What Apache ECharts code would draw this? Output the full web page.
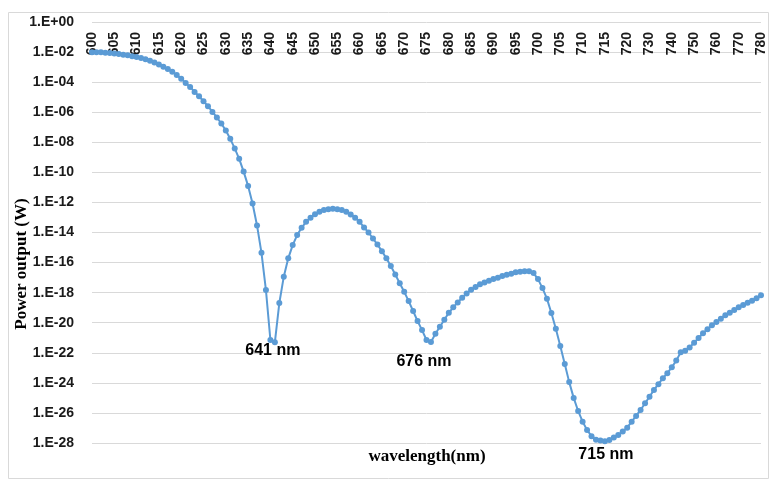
<!DOCTYPE html>
<html>
<head>
<meta charset="utf-8">
<script src="https://cdn.jsdelivr.net/npm/echarts@6/dist/echarts.min.js"></script>
<style>
  html, body { margin: 0; padding: 0; background: #fff; }
  #chart { width: 771px; height: 492px; }
</style>
</head>
<body>
<div id="chart"></div>
<script>
// wavelength categories (1 nm steps to 720, then 2 nm steps)
const wavelengths = [
  600, 601, 602, 603, 604, 605, 606, 607, 608, 609, 610, 611, 612, 613, 614, 615, 616, 617, 618, 619,
  620, 621, 622, 623, 624, 625, 626, 627, 628, 629, 630, 631, 632, 633, 634, 635, 636, 637, 638, 639,
  640, 641, 642, 643, 644, 645, 646, 647, 648, 649, 650, 651, 652, 653, 654, 655, 656, 657, 658, 659,
  660, 661, 662, 663, 664, 665, 666, 667, 668, 669, 670, 671, 672, 673, 674, 675, 676, 677, 678, 679,
  680, 681, 682, 683, 684, 685, 686, 687, 688, 689, 690, 691, 692, 693, 694, 695, 696, 697, 698, 699,
  700, 701, 702, 703, 704, 705, 706, 707, 708, 709, 710, 711, 712, 713, 714, 715, 716, 717, 718, 719,
  720, 722, 724, 726, 728, 730, 732, 734, 736, 738, 740, 742, 744, 746, 748, 750, 752, 754, 756, 758,
  760, 762, 764, 766, 768, 770, 772, 774, 776, 778, 780
];

// power output (W)
const power = [
  9.77e-3, 9.77e-3, 9.55e-3, 9.12e-3, 8.51e-3, 7.94e-3, 7.41e-3, 6.76e-3, 6.03e-3, 5.37e-3,
  4.68e-3, 3.98e-3, 3.31e-3, 2.69e-3, 2.04e-3, 1.51e-3, 1.07e-3, 7.41e-4, 4.90e-4, 3.02e-4,
  1.70e-4, 8.91e-5, 4.79e-5, 2.24e-5, 1.15e-5, 5.37e-6, 2.51e-6, 1.05e-6, 4.47e-7, 1.78e-7,
  6.03e-8, 1.70e-8, 3.89e-9, 7.94e-10, 1.12e-10, 1.26e-11, 8.51e-13, 2.95e-14, 4.47e-16, 1.48e-18,
  7.08e-22, 5.01e-22, 2.04e-19, 1.15e-17, 1.91e-16, 1.45e-15, 6.76e-15, 2.04e-14, 5.13e-14, 9.55e-14,
  1.66e-13, 2.40e-13, 3.09e-13, 3.55e-13, 3.80e-13, 3.55e-13, 3.09e-13, 2.40e-13, 1.58e-13, 9.55e-14,
  5.13e-14, 2.19e-14, 1.00e-14, 3.98e-15, 1.58e-15, 5.75e-16, 1.91e-16, 5.89e-17, 1.62e-17, 4.17e-18,
  1.15e-18, 2.75e-19, 6.03e-20, 1.29e-20, 3.24e-21, 7.08e-22, 5.25e-22, 1.86e-21, 5.37e-21, 1.58e-20,
  4.57e-20, 1.05e-19, 2.24e-19, 4.57e-19, 8.91e-19, 1.55e-18, 2.34e-18, 3.55e-18, 4.79e-18, 6.17e-18,
  7.94e-18, 9.77e-18, 1.26e-17, 1.55e-17, 1.82e-17, 2.24e-17, 2.45e-17, 2.63e-17, 2.69e-17, 2.00e-17,
  7.94e-18, 2.00e-18, 3.98e-19, 4.47e-20, 3.98e-21, 2.82e-22, 1.78e-23, 1.12e-24, 1.00e-25, 1.35e-26,
  2.63e-27, 7.41e-28, 2.82e-28, 1.66e-28, 1.45e-28, 1.32e-28, 1.58e-28, 2.29e-28, 3.47e-28, 5.75e-28,
  1.05e-27, 2.63e-27, 6.31e-27, 1.58e-26, 4.37e-26, 1.20e-25, 3.39e-25, 8.13e-25, 2.04e-24, 4.37e-24,
  1.10e-23, 3.02e-23, 1.07e-22, 1.38e-22, 2.29e-22, 4.68e-22, 9.55e-22, 2.00e-21, 3.63e-21, 6.76e-21,
  1.12e-20, 1.86e-20, 3.09e-20, 4.57e-20, 6.92e-20, 1.05e-19, 1.51e-19, 2.14e-19, 2.88e-19, 4.17e-19,
  6.61e-19
];

// marked dips
const dipWavelengths = [641, 676, 715];
const dipLabels = ['641 nm', '676 nm', '715 nm'];

const chart = echarts.init(document.getElementById('chart'));

// echarts 6 log axis breaks with 1e-28, so plot decades on a value axis
const decades = power.map(function (p) { return Math.log10(p); });

const labelOffsets = [[-2, 8], [-7, 20], [1, 13]];

const option = {
  animation: false,
  grid: { left: 92, right: 10, top: 22, bottom: 49 },
  xAxis: {
    type: 'category',
    position: 'top',
    data: wavelengths,
    boundaryGap: false,
    axisLine: { show: false },
    axisTick: { show: false },
    splitLine: { show: false },
    axisLabel: {
      inside: true,
      rotate: 90,
      interval: 4,
      margin: 10,
      fontFamily: 'Liberation Sans',
      fontWeight: 'bold',
      fontSize: 14,
      color: '#1a1a1a'
    }
  },
  yAxis: {
    type: 'value',
    min: -28,
    max: 0,
    interval: 2,
    axisLine: { show: false },
    axisTick: { show: false },
    splitLine: { lineStyle: { color: '#d9d9d9', width: 1 } },
    axisLabel: {
      margin: 18,
      fontFamily: 'Liberation Sans',
      fontWeight: 'bold',
      fontSize: 14,
      color: '#1a1a1a',
      formatter: function (e) {
        e = Math.round(e);
        return '1.E' + (e < 0 ? '-' : '+') + String(Math.abs(e)).padStart(2, '0');
      }
    }
  },
  series: [
    {
      type: 'line',
      data: decades,
      symbol: 'circle',
      symbolSize: 6,
      showSymbol: true,
      showAllSymbol: true,
      lineStyle: { color: '#5B9BD5', width: 2 },
      itemStyle: { color: '#5B9BD5' },
      markPoint: {
        symbol: 'circle',
        symbolSize: 1,
        itemStyle: { color: 'rgba(0,0,0,0)' },
        label: {
          show: true,
          position: 'inside',
          formatter: '{b}',
          fontFamily: 'Liberation Sans',
          fontWeight: 'bold',
          fontSize: 16,
          color: '#000'
        },
        data: dipWavelengths.map(function (w, k) {
          const idx = wavelengths.indexOf(w);
          return {
            name: dipLabels[k],
            coord: [idx, decades[idx]],
            label: { offset: labelOffsets[k] }
          };
        })
      }
    }
  ],
  graphic: [
    {
      type: 'rect',
      shape: { x: 8.5, y: 12.5, width: 760, height: 466 },
      style: { fill: 'none', stroke: '#d9d9d9', lineWidth: 1 },
      silent: true
    },
    {
      type: 'text',
      x: 22,
      y: 264,
      rotation: Math.PI / 2,
      style: {
        text: 'Power output (W)',
        font: 'bold 17px "Liberation Serif"',
        fill: '#000',
        align: 'center',
        verticalAlign: 'middle'
      }
    },
    {
      type: 'text',
      x: 427,
      y: 457,
      style: {
        text: 'wavelength(nm)',
        font: 'bold 17px "Liberation Serif"',
        fill: '#000',
        align: 'center',
        verticalAlign: 'middle'
      }
    }
  ]
};

chart.setOption(option);
</script>
</body>
</html>
